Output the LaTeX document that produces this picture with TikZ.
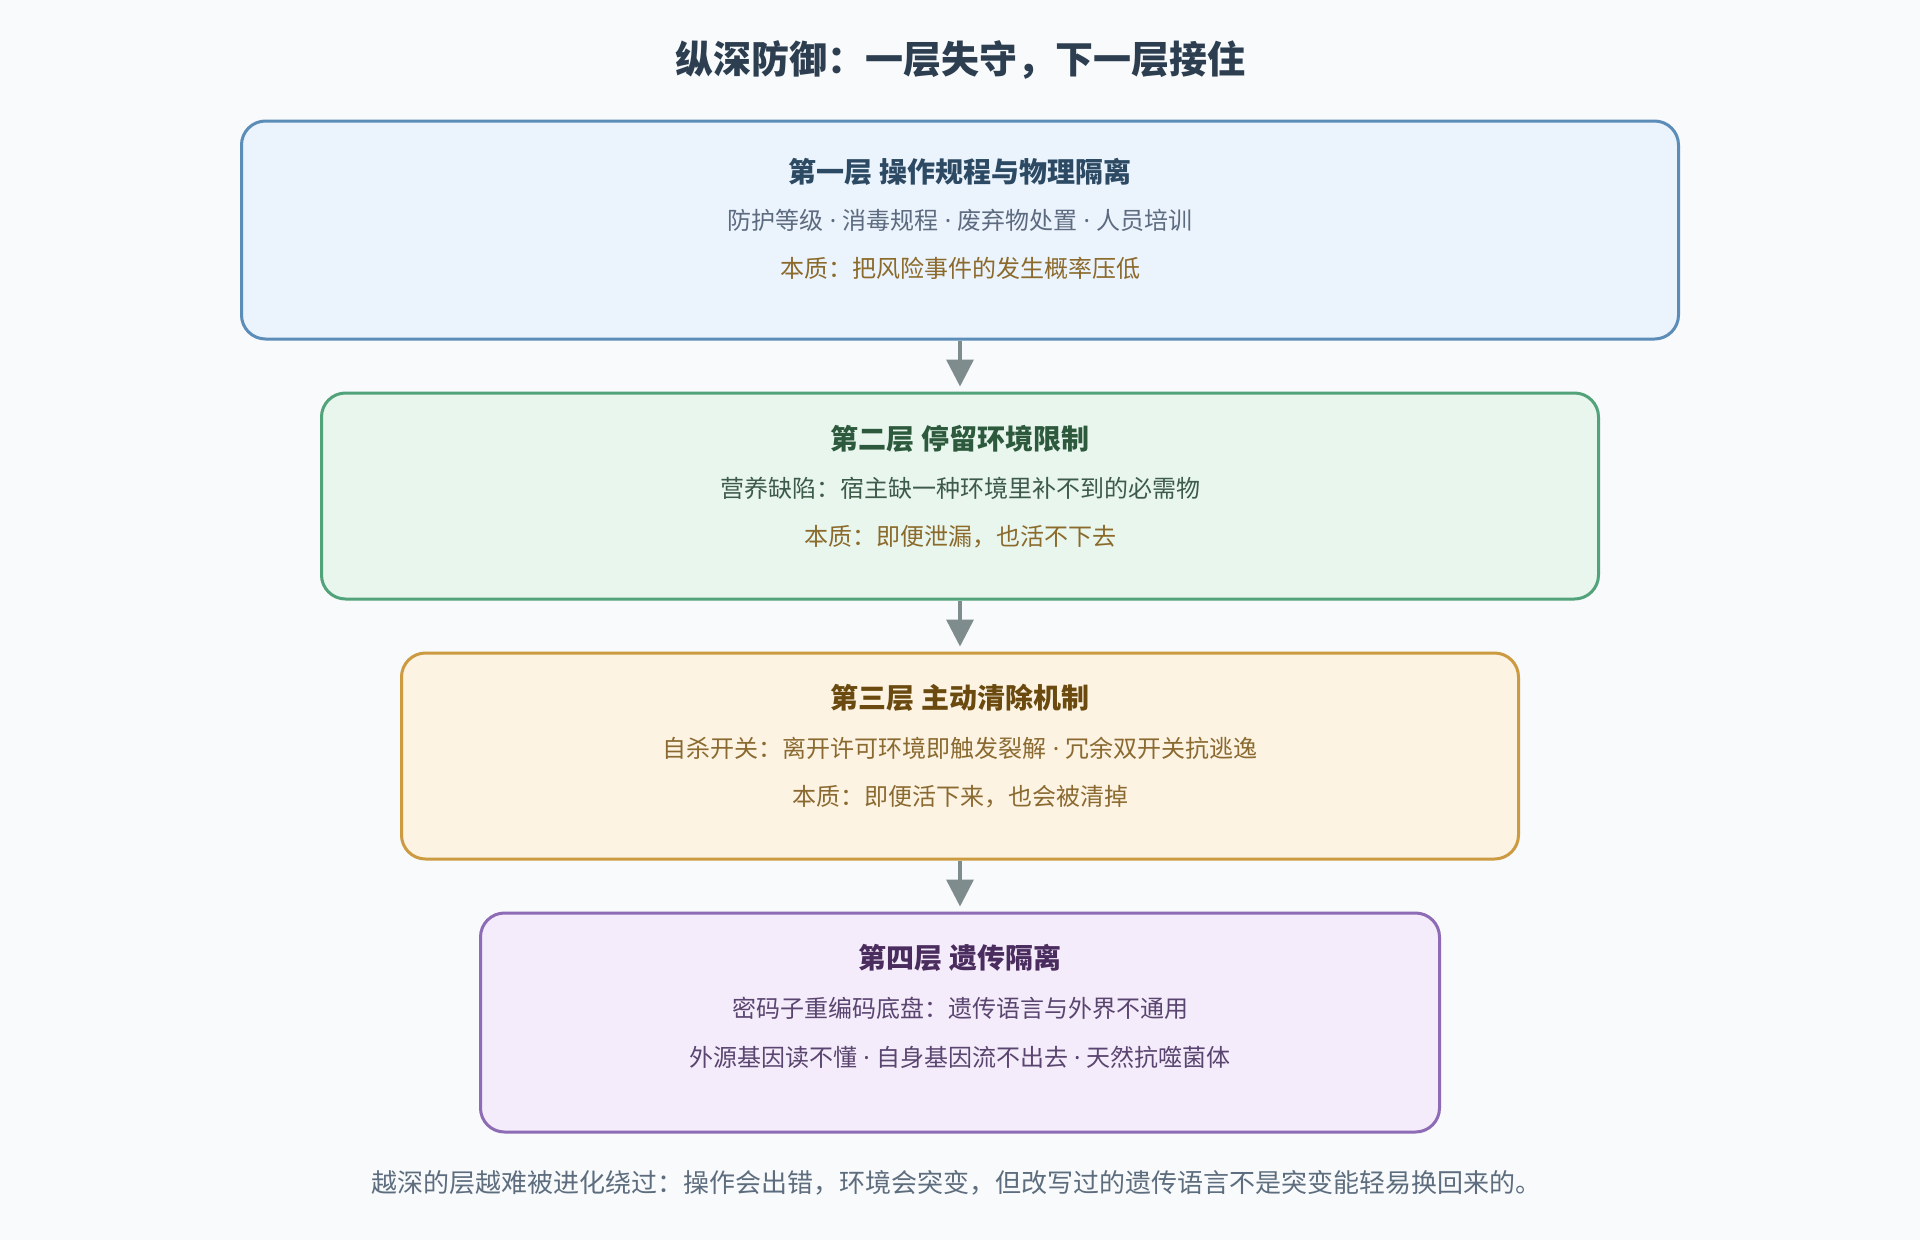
\documentclass[tikz,border=0pt]{standalone}
\usepackage{fontspec}
\setmainfont{Noto Sans CJK SC}
\newfontfamily\latinf{Noto Sans}
\usetikzlibrary{arrows.meta}
\newcommand{\msep}{{\latinf{} · }}
\definecolor{bgc}{HTML}{F8FAFC}
\definecolor{maintitle}{HTML}{2C3E50}
\definecolor{arrowc}{HTML}{7F8C8D}
\definecolor{footc}{HTML}{5D6D7E}
\definecolor{ess}{HTML}{8B6A2B}
\definecolor{bAfill}{HTML}{EBF3FC}\definecolor{bAdraw}{HTML}{5B8DB8}
\definecolor{bAtitle}{HTML}{2C4A63}\definecolor{bAtext}{HTML}{5D6B80}
\definecolor{bBfill}{HTML}{E8F6EE}\definecolor{bBdraw}{HTML}{52A27A}
\definecolor{bBtitle}{HTML}{2D5A3D}\definecolor{bBtext}{HTML}{3D5A4A}
\definecolor{bCfill}{HTML}{FDF3E3}\definecolor{bCdraw}{HTML}{CC9A40}
\definecolor{bCtitle}{HTML}{6B4A10}\definecolor{bCtext}{HTML}{8A6A30}
\definecolor{bDfill}{HTML}{F4ECFA}\definecolor{bDdraw}{HTML}{8E6BB5}
\definecolor{bDtitle}{HTML}{4A2D5E}\definecolor{bDtext}{HTML}{5A4570}
\tikzset{
  layerbox/.style={rectangle, rounded corners=24pt, line width=3pt, inner sep=0pt},
  layertitle/.style={font=\fontsize{28}{32}\selectfont\bfseries, inner sep=0pt, anchor=center},
  layertext/.style={font=\fontsize{24}{28}\selectfont, inner sep=0pt, anchor=center},
  arr/.style={draw=arrowc, line width=3.5pt, -{Triangle[length=27pt,width=27pt]}, shorten >=5pt},
}
\begin{document}
\begin{tikzpicture}[x=1pt,y=-1pt]
\fill[bgc] (0,0) rectangle (1920,1240);
\useasboundingbox (0,0) rectangle (1920,1240);
\node[font=\fontsize{38}{44}\selectfont\bfseries, text=maintitle, inner sep=0pt] (title) at (960,60) {纵深防御：一层失守，下一层接住};
% boxes
\node[layerbox, fill=bAfill, draw=bAdraw, minimum width=1437pt, minimum height=218pt] (b1) at (960,230) {};
\node[layerbox, fill=bBfill, draw=bBdraw, minimum width=1277pt, minimum height=206pt] (b2) at (960,496) {};
\node[layerbox, fill=bCfill, draw=bCdraw, minimum width=1117pt, minimum height=206pt] (b3) at (960,756) {};
\node[layerbox, fill=bDfill, draw=bDdraw, minimum width=959pt, minimum height=219pt] (b4) at (960,1022.5) {};
% box 1 text
\node[layertitle, text=bAtitle] (t1) at (960,172) {第一层 操作规程与物理隔离};
\node[layertext, text=bAtext] (l1a) at (960,220) {防护等级\msep 消毒规程\msep 废弃物处置\msep 人员培训};
\node[layertext, text=ess] (l1b) at (960,268) {本质：把风险事件的发生概率压低};
% box 2 text
\node[layertitle, text=bBtitle] (t2) at (960,439) {第二层 停留环境限制};
\node[layertext, text=bBtext] (l2a) at (960,488) {营养缺陷：宿主缺一种环境里补不到的必需物};
\node[layertext, text=ess] (l2b) at (960,537) {本质：即便泄漏，也活不下去};
% box 3 text
\node[layertitle, text=bCtitle] (t3) at (960,698) {第三层 主动清除机制};
\node[layertext, text=bCtext] (l3a) at (960,748) {自杀开关：离开许可环境即触发裂解\msep 冗余双开关抗逃逸};
\node[layertext, text=bCtext] (l3b) at (960,797) {本质：即便活下来，也会被清掉};
% box 4 text
\node[layertitle, text=bDtitle] (t4) at (960,958) {第四层 遗传隔离};
\node[layertext, text=bDtext] (l4a) at (960,1008) {密码子重编码底盘：遗传语言与外界不通用};
\node[layertext, text=bDtext] (l4b) at (960,1057) {外源基因读不懂\msep 自身基因流不出去\msep 天然抗噬菌体};
% footer
\node[font=\fontsize{26}{30}\selectfont, text=footc, inner sep=0pt] (foot) at (956,1183) {越深的层越难被进化绕过：操作会出错，环境会突变，但改写过的遗传语言不是突变能轻易换回来的。};
% arrows
\draw[arr] (b1) -- (b2);
\draw[arr] (b2) -- (b3);
\draw[arr] (b3) -- (b4);
\end{tikzpicture}
\end{document}
